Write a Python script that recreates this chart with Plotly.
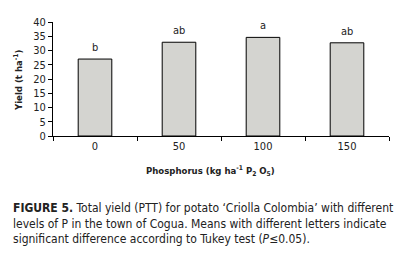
import plotly.graph_objects as go

categories = ["0", "50", "100", "150"]
yield_values = [27.0, 32.9, 34.6, 32.7]
letters = ["b", "ab", "a", "ab"]
y_ticks = [0, 5, 10, 15, 20, 25, 30, 35, 40]

FONT = "DejaVu Sans Condensed, Liberation Sans Narrow, Arial Narrow, sans-serif"
W, H = 402, 255
L, R, T, B = 53, 13, 22, 119
PW = W - L - R
PH = H - T - B

def px(xpix):
    return (xpix - L) / PW

def py(ypix):
    return (H - B - ypix) / PH

fig = go.Figure()
fig.add_trace(go.Bar(
    x=categories, y=yield_values, width=0.4,
    marker=dict(color="#d4d4d0", line=dict(color="#000000", width=1)),
    hoverinfo="skip",
))

annotations = []
for i, (v, l) in enumerate(zip(yield_values, letters)):
    annotations.append(dict(x=i, y=v, text=l, showarrow=False, xref="x", yref="y",
                            yanchor="bottom", yshift=3,
                            font=dict(family=FONT, size=11, color="#222")))

annotations.append(dict(x=px(210), y=py(171), xref="paper", yref="paper",
                        text="<b>Phosphorus (kg ha<sup>-1</sup> P<sub>2</sub> O<sub>5</sub>)</b>",
                        showarrow=False, xanchor="center", yanchor="middle",
                        font=dict(family=FONT, size=9.5, color="#222")))
annotations.append(dict(x=px(18), y=py(81), xref="paper", yref="paper",
                        text="<b>Yield (t ha<sup>-1</sup>)</b>", textangle=-90,
                        showarrow=False, xanchor="center", yanchor="middle",
                        font=dict(family=FONT, size=9.5, color="#222")))
caption = ("<b>FIGURE 5.</b> Total yield (PTT) for potato ‘Criolla Colombia’ with different<br>"
           "levels of P in the town of Cogua. Means with different letters indicate<br>"
           "significant difference according to Tukey test (<i>P</i>≤0.05).")
annotations.append(dict(x=px(11), y=py(199), xref="paper", yref="paper",
                        text=caption, showarrow=False, xanchor="left", yanchor="top",
                        align="left",
                        font=dict(family=FONT, size=12, color="#222")))

fig.update_layout(
    template="none",
    width=W, height=H,
    margin=dict(l=L, r=R, t=T, b=B, pad=0),
    paper_bgcolor="white", plot_bgcolor="white",
    showlegend=False,
    font=dict(family=FONT, size=11, color="#222"),
    annotations=annotations,
    xaxis=dict(type="category", range=[-0.5, 3.5], showline=True, linecolor="#000",
               linewidth=1, ticks="outside", tickson="boundaries", ticklen=4,
               tickcolor="#000", showgrid=False, zeroline=False, automargin=False,
               tickfont=dict(family=FONT, size=11, color="#222")),
    yaxis=dict(range=[0, 40], tickvals=y_ticks, showline=True, linecolor="#000",
               linewidth=1, ticks="outside", ticklen=4, tickcolor="#000",
               showgrid=False, zeroline=False, automargin=False,
               tickfont=dict(family=FONT, size=11, color="#222")),
)

fig.write_html("out.html", config={"displayModeBar": False},
               post_script="document.body.style.margin='0';document.body.style.padding='0';")
